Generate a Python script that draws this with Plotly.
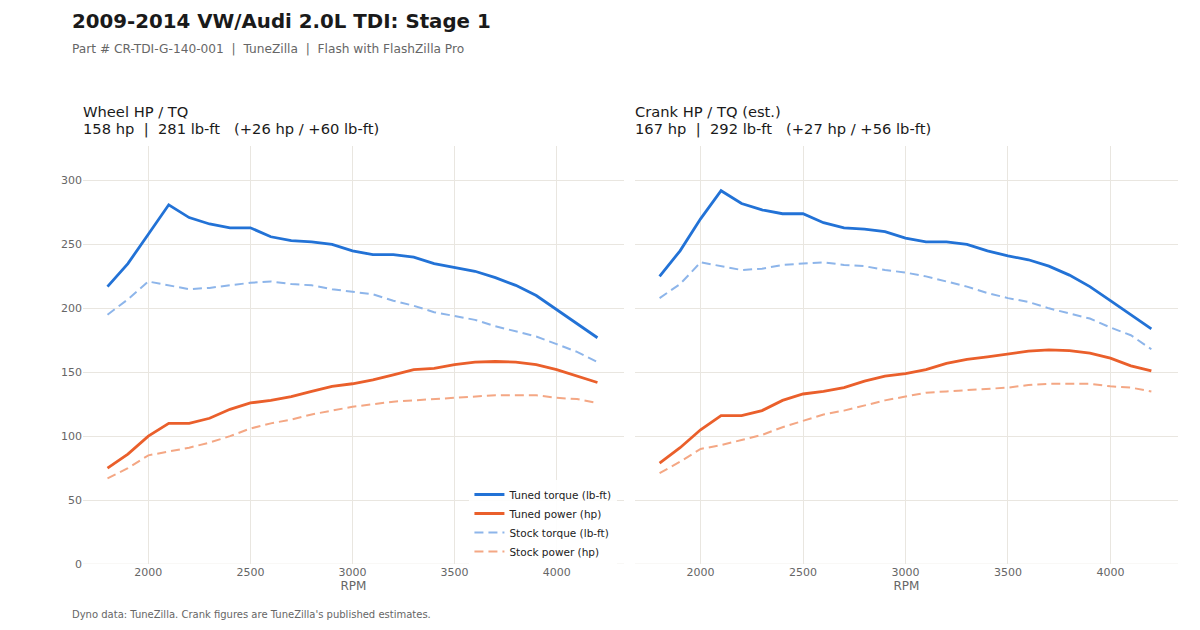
import plotly.graph_objects as go

rpm = list(range(1800, 4201, 100))

wheel_tuned_tq = [217, 235, 258, 281, 271, 266, 263, 263, 256, 253, 252, 250, 245, 242, 242, 240,
                  235, 232, 229, 224, 218, 210, 199, 188, 177]
wheel_stock_tq = [195, 207, 221, 218, 215, 216, 218, 220, 221, 219, 218, 215, 213, 211, 206, 202,
                  197, 194, 191, 186, 182, 178, 172, 166, 158]
wheel_tuned_hp = [75, 86, 100, 110, 110, 114, 121, 126, 128, 131, 135, 139, 141, 144, 148, 152,
                  153, 156, 158, 158.4, 158, 156, 152, 147, 142]
wheel_stock_hp = [67, 75, 85, 88, 91, 95, 100, 106, 110, 113, 117, 120, 123, 125, 127, 128,
                  129, 130, 131, 132, 132, 132, 130, 129, 126]

crank_tuned_tq = [225, 245, 270, 292, 282, 277, 274, 274, 267, 263, 262, 260, 255, 252, 252, 250,
                  245, 241, 238, 233, 226, 217, 206, 195, 184]
crank_stock_tq = [208, 219, 236, 233, 230, 231, 234, 235, 236, 234, 233, 230, 228, 225, 221, 217,
                  212, 208, 205, 200, 196, 192, 185, 179, 168]
crank_tuned_hp = [79, 91, 105, 116, 116, 120, 128, 133, 135, 138, 143, 147, 149, 152, 157, 160,
                  162, 164, 166.5, 167.5, 167, 165, 161, 155, 151]
crank_stock_hp = [71, 80, 90, 93, 97, 101, 107, 112, 117, 120, 124, 128, 131, 134, 135, 136,
                  137, 138, 140, 141, 141, 141, 139, 138, 135]

series_names = ["Tuned torque (lb-ft)", "Tuned power (hp)", "Stock torque (lb-ft)", "Stock power (hp)"]
x_ticks = [2000, 2500, 3000, 3500, 4000]
y_ticks = [0, 50, 100, 150, 200, 250, 300]

title = "2009-2014 VW/Audi 2.0L TDI: Stage 1"
subtitle = "Part # CR-TDI-G-140-001  |  TuneZilla  |  Flash with FlashZilla Pro"
panel_titles = [("Wheel HP / TQ", "158 hp  |  281 lb-ft   (+26 hp / +60 lb-ft)"),
                ("Crank HP / TQ (est.)", "167 hp  |  292 lb-ft   (+27 hp / +56 lb-ft)")]
footnote = "Dyno data: TuneZilla. Crank figures are TuneZilla's published estimates."

FONT = "DejaVu Sans"
C_TQ = "#2272d6"
C_HP = "#ea5f2b"
C_STQ = "#8db5ea"
C_SHP = "#f4a784"

styles = [
    dict(color=C_TQ, width=2.8, dash="solid"),
    dict(color=C_HP, width=2.8, dash="solid"),
    dict(color=C_STQ, width=2, dash="9px,5px"),
    dict(color=C_SHP, width=2, dash="9px,5px"),
]

fig = go.Figure()
panels = [
    ("x", "y", [wheel_tuned_tq, wheel_tuned_hp, wheel_stock_tq, wheel_stock_hp], True),
    ("x2", "y2", [crank_tuned_tq, crank_tuned_hp, crank_stock_tq, crank_stock_hp], False),
]
for xa, ya, data, show in panels:
    for name, vals, st in zip(series_names, data, styles):
        fig.add_trace(go.Scatter(x=rpm, y=vals, mode="lines", name=name, line=st,
                                 xaxis=xa, yaxis=ya, showlegend=show))

# page offset (body margin) compensation: figure coords = screen coords - 8
OFF = 8
FW, FH = 1200 - 2 * OFF, 630 - 2 * OFF
PL, PR, PT, PB = 83, 1178, 146, 564   # plot area in screen coords
L, R, T, B = PL - OFF, FW - (PR - OFF), PT - OFF, FH - (PB - OFF)
W = FW - L - R
H = FH - T - B


def px(xs):
    return (xs - OFF - L) / W


def py(ys):
    return (FH - B - (ys - OFF)) / H


d1 = px(624)
d2 = px(635)

axis_common = dict(showgrid=True, gridcolor="#e9e6e0", gridwidth=1.2, zeroline=False,
                   showline=False, ticks="", tickfont=dict(family=FONT, size=11, color="#666666"))
xrange = [1680, 4330]
yrange = [0, 327]
xtitle = dict(text="RPM", font=dict(family=FONT, size=12, color="#666666"), standoff=2)

fig.update_layout(
    width=FW, height=FH,
    margin=dict(l=L, r=R, t=T, b=B),
    paper_bgcolor="white", plot_bgcolor="white",
    font=dict(family=FONT, color="#222222"),
    xaxis=dict(domain=[0, d1], range=xrange, tickvals=x_ticks, title=xtitle, **axis_common),
    xaxis2=dict(domain=[d2, 1], range=xrange, tickvals=x_ticks, title=xtitle, **axis_common),
    yaxis=dict(domain=[0, 1], range=yrange, tickvals=y_ticks, anchor="x", **axis_common),
    yaxis2=dict(domain=[0, 1], range=yrange, tickvals=y_ticks, anchor="x2", showticklabels=False,
                **{k: v for k, v in axis_common.items() if k != "tickfont"}),
    showlegend=True,
    legend=dict(x=d1 - 0.006, y=py(566), xanchor="right", yanchor="bottom",
                bgcolor="rgba(255,255,255,0.9)", borderwidth=0,
                font=dict(family=FONT, size=10.5, color="#222222"),
                tracegroupgap=0, itemwidth=30),
)

for xa, ya in (("x", "y"), ("x2", "y2")):
    fig.add_shape(type="line", xref=f"{xa} domain", yref=ya, x0=0, x1=1, y0=0, y1=0,
                  line=dict(color="#f3f1ed", width=1), layer="below")

ann = []
ann.append(dict(text=f"<b>{title}</b>", xref="paper", yref="paper",
                x=px(70), y=py(8), xanchor="left", yanchor="top",
                showarrow=False, font=dict(family=FONT, size=19.8, color="#1a1a1a")))
ann.append(dict(text=subtitle, xref="paper", yref="paper",
                x=px(70), y=py(49), xanchor="left", yanchor="middle",
                showarrow=False, font=dict(family=FONT, size=12.2, color="#666666")))
for (l1, l2), xs in zip(panel_titles, [81, 633]):
    ann.append(dict(text=l1, xref="paper", yref="paper", x=px(xs), y=py(112),
                    xanchor="left", yanchor="middle", showarrow=False,
                    font=dict(family=FONT, size=14.7, color="#1a1a1a")))
    ann.append(dict(text=l2, xref="paper", yref="paper", x=px(xs), y=py(129),
                    xanchor="left", yanchor="middle", showarrow=False,
                    font=dict(family=FONT, size=14.7, color="#1a1a1a")))
ann.append(dict(text=footnote, xref="paper", yref="paper",
                x=px(70), y=py(614), xanchor="left", yanchor="middle",
                showarrow=False, font=dict(family=FONT, size=10, color="#666666")))
fig.update_layout(annotations=ann)

fig.write_html("out.html")
